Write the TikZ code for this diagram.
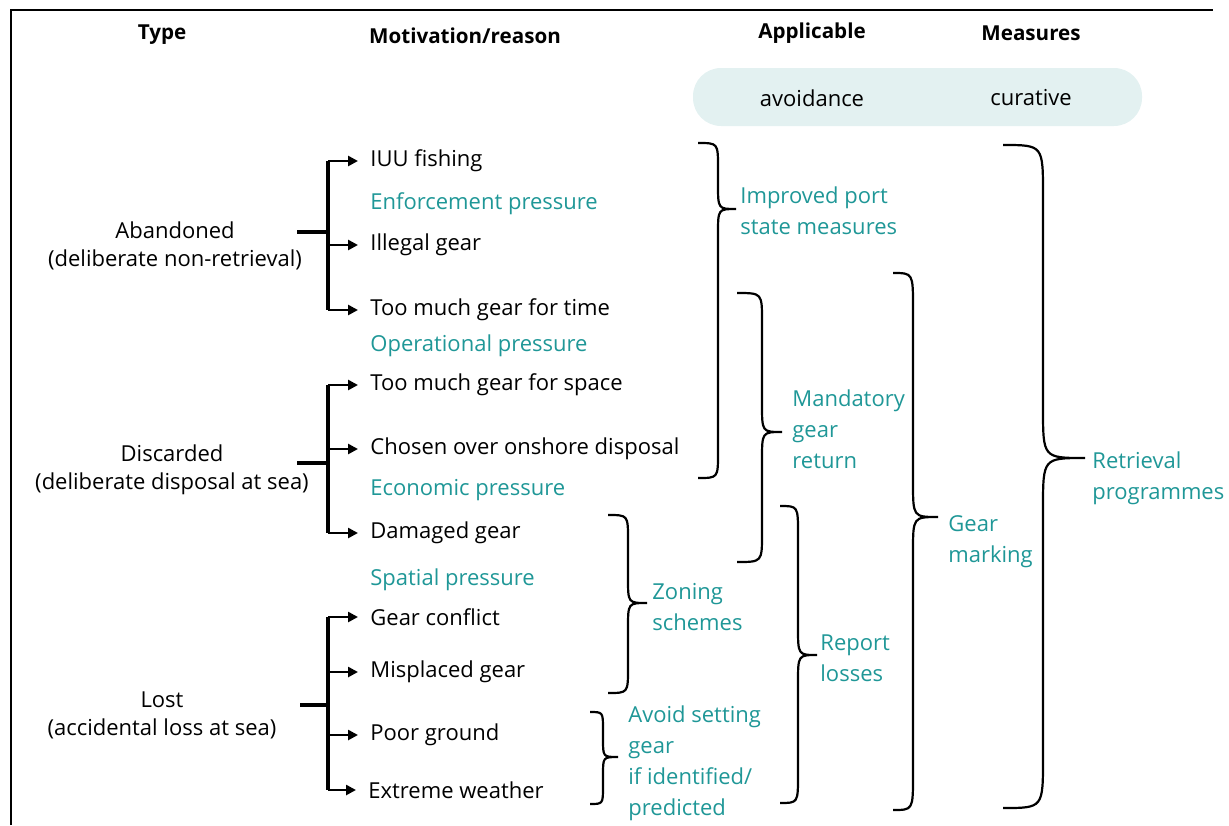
\documentclass[tikz,border=0pt]{standalone}
\usepackage{fontspec}
\setmainfont{Open Sans}
\usetikzlibrary{arrows.meta}

% Curly brace opening to the right: x0, ytop, ybot, xbar, xtip, ytip, radius
\newcommand{\gearbrace}[7]{%
  \draw[bracestroke] (#1,#2) .. controls (#4,#2) .. (#4,{#2+#7})
    -- (#4,{#6-#7}) .. controls (#4,#6) .. (#5,#6)
    .. controls (#4,#6) .. (#4,{#6+#7})
    -- (#4,{#3-#7}) .. controls (#4,#3) .. (#1,#3);}

\begin{document}
\begin{tikzpicture}[x=0.5pt, y=-0.5pt,
    head/.style={font=\fontsize{10.3}{12}\selectfont\bfseries},
    typetext/.style={align=center, font=\fontsize{11}{14}\selectfont},
    item/.style={anchor=west, inner xsep=6pt, inner ysep=1pt, font=\fontsize{11}{12}\selectfont},
    pressure/.style={item, text=tealText},
    measure/.style={anchor=west, align=left, inner sep=0pt, text=tealText, font=\fontsize{11}{15.5}\selectfont},
    treeline/.style={line width=1.8pt},
    treearrow/.style={line width=1.3pt, -{Triangle[length=5pt,width=5pt]}},
    bracestroke/.style={line width=1.1pt}]

    \definecolor{tealText}{HTML}{1F9797}
    \definecolor{pillFill}{HTML}{E3F1F1}

    \useasboundingbox (0,0) rectangle (1229,825);

    % Frame
    \draw[line width=1pt] (11,825) -- (11,10) -- (1213,10);

    % Column headings
    \node[head] (hType) at (162,35) {Type};
    \node[head] (hMotiv) at (465,36) {Motivation/reason};
    \node[head] (hAppl) at (812,33) {Applicable};
    \node[head] (hMeas) at (1031,33) {Measures};

    % Avoidance / curative band
    \fill[pillFill, rounded corners=14pt] (693,68) rectangle (1142,126);
    \node (avoid) at (812,98) {\fontsize{11}{12}\selectfont avoidance};
    \node (cure) at (1031,98) {\fontsize{11}{12}\selectfont curative};

    % Types
    \node[typetext] (aband) at (175,246) {Abandoned\\(deliberate non-retrieval)};
    \node[typetext] (disc) at (172,470) {Discarded\\(deliberate disposal at sea)};
    \node[typetext] (lost) at (162,715) {Lost\\(accidental loss at sea)};

    % Motivations
    \node[item] (iuu) at (358,161) {IUU fishing};
    \node[pressure] (enf) at (358,204) {Enforcement pressure};
    \node[item] (illegal) at (358,245) {Illegal gear};
    \node[item] (timeg) at (358,310) {Too much gear for time};
    \node[pressure] (oper) at (358,346) {Operational pressure};
    \node[item] (space) at (358,385) {Too much gear for space};
    \node[item] (onshore) at (358,449) {Chosen over onshore disposal};
    \node[pressure] (econ) at (358,490) {Economic pressure};
    \node[item] (damaged) at (358,533) {Damaged gear};
    \node[pressure] (spatial) at (358,580) {Spatial pressure};
    \node[item] (conflict) at (358,617) {Gear conflict};
    \node[item] (misplaced) at (358,672) {Misplaced gear};
    \node[item] (poor) at (358,735) {Poor ground};
    \node[item] (weather) at (356,790) {Extreme weather};

    % Branch points
    \coordinate (abandStub) at (297,232);
    \coordinate (abandBar) at (328,232);
    \coordinate (discStub) at (297,463);
    \coordinate (discBar) at (328,463);
    \coordinate (lostStub) at (300,705);
    \coordinate (lostBar) at (328,705);

    % Abandoned branches
    \draw[treeline] (abandStub) -- (abandBar);
    \draw[treeline] (abandBar |- iuu) -- (abandBar |- timeg);
    \foreach \t in {iuu, illegal, timeg}
        \draw[treearrow] (abandBar |- \t) -- (\t.west);

    % Discarded branches
    \draw[treeline] (discStub) -- (discBar);
    \draw[treeline] (discBar |- space) -- (discBar |- damaged);
    \foreach \t in {space, onshore, damaged}
        \draw[treearrow] (discBar |- \t) -- (\t.west);

    % Lost branches
    \draw[treeline] (lostStub) -- (lostBar);
    \draw[treeline] (lostBar |- conflict) -- (lostBar |- weather);
    \foreach \t in {conflict, misplaced, poor, weather}
        \draw[treearrow] (lostBar |- \t) -- (\t.west);

    % Measures
    \node[measure] (port) at (740,211) {Improved port\\state measures};
    \node[measure] (mandatory) at (792,429) {Mandatory\\gear\\return};
    \node[measure] (zoning) at (652,607) {Zoning\\schemes};
    \node[measure] (avoidset) at (628,763) {Avoid setting\\gear\\if identified/\\predicted};
    \node[measure] (report) at (820,658) {Report\\losses};
    \node[measure] (marking) at (948,542) {Gear\\marking};
    \node[measure] (retrieval) at (1092,478) {Retrieval\\programmes};

    % Braces
    \gearbrace{698}{143}{478}{718}{736}{209}{25}
    \gearbrace{737}{293}{562}{762}{782}{432}{28}
    \gearbrace{608}{515}{693}{628}{647}{603}{25}
    \gearbrace{590}{712}{804}{603}{618}{757}{18}
    \gearbrace{780}{506}{803}{798}{817}{655}{28}
    \gearbrace{893}{273}{810}{913}{938}{517}{35}
    \gearbrace{1003}{145}{808}{1043}{1085}{458}{50}

\end{tikzpicture}
\end{document}
